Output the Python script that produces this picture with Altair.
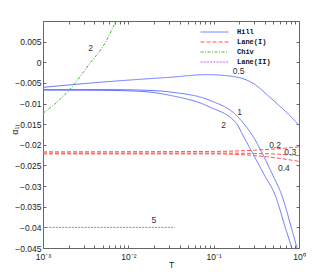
import altair as alt
import pandas as pd

# ---- data ----
# Hill curves (labels 0.5, 1, 2)
H05_T = [0.001, 0.00464, 0.01363, 0.03058, 0.08215, 0.18424, 0.30166, 0.45186, 0.77426, 1.0]
H05_V = [-0.00607, -0.00485, -0.00413, -0.00364, -0.00299, -0.00357, -0.00534, -0.00842, -0.01285, -0.01527]
H1_T = [0.001, 0.00464, 0.01363, 0.03058, 0.08978, 0.18424, 0.28355, 0.49386, 0.62921, 0.81718, 0.94751]
H1_V = [-0.00662, -0.00662, -0.00674, -0.00720, -0.00922, -0.01285, -0.01770, -0.02739, -0.03223, -0.04023, -0.04500]
H2_T = [0.001, 0.00464, 0.01363, 0.03058, 0.08978, 0.18424, 0.22021, 0.39494, 0.52672, 0.69519, 0.82385]
H2_V = [-0.00674, -0.00679, -0.00703, -0.00800, -0.01084, -0.01479, -0.01770, -0.02739, -0.03223, -0.04023, -0.04500]
# Lane(I) curves (labels 0.2, 0.3, 0.4)
L_T = [0.001, 0.1, 0.3, 0.6, 1.0]
L02_V = [-0.0217, -0.0216, -0.0213, -0.0209, -0.0205]
L03_V = [-0.0220, -0.0220, -0.0221, -0.0223, -0.0226]
L04_V = [-0.0222, -0.0222, -0.0226, -0.0233, -0.0240]
# Chiv curve (label 2)
C_T = [0.001, 0.002069, 0.003546, 0.005311, 0.007143]
C_V = [-0.01237, -0.00655, -0.00025, 0.00460, 0.0100]
# Lane(II) curve (label 5)
L2_T = [0.001, 0.035]
L2_V = [-0.0400, -0.0400]

# annotations
LAB_TXT = ["0.5", "1", "2", "2", "5", "0.2", "0.3", "0.4"]
LAB_T = [0.196, 0.201, 0.131, 0.00361, 0.0199, 0.524, 0.789, 0.664]
LAB_V = [-0.00219, -0.01205, -0.01527, 0.00355, -0.0383, -0.01995, -0.02174, -0.02562]

SERIES = ["Hill", "Lane(I)", "Chiv", "Lane(II)"]
COLORS = ["#6674ff", "#ff5555", "#44bb33", "#c060f0"]
DASHES = [[1, 0], [4, 2], [3, 1.5, 1, 1.5], [2, 1.2]]

X_MAJOR = [0.001, 0.01, 0.1, 1.0]
X_MINOR = [k * m for m in (0.001, 0.01, 0.1) for k in range(2, 10)]
Y_TICKS = [-0.045, -0.04, -0.035, -0.03, -0.025, -0.02, -0.015, -0.01, -0.005, 0.0, 0.005]

rows = []
def add(series, curve, ts, vs):
    for t, v in zip(ts, vs):
        rows.append({"series": series, "curve": curve, "T": t, "V": v})

add("Hill", "h05", H05_T, H05_V)
add("Hill", "h1", H1_T, H1_V)
add("Hill", "h2", H2_T, H2_V)
add("Lane(I)", "l02", L_T, L02_V)
add("Lane(I)", "l03", L_T, L03_V)
add("Lane(I)", "l04", L_T, L04_V)
add("Chiv", "c2", C_T, C_V)
add("Lane(II)", "l5", L2_T, L2_V)
df = pd.DataFrame(rows)
lab_df = pd.DataFrame({"txt": LAB_TXT, "T": LAB_T, "V": LAB_V})

xscale = alt.Scale(type="log", domain=[0.001, 1])
yscale = alt.Scale(domain=[-0.045, 0.01])

FONT = "Liberation Sans"
x_ticks = sorted(X_MAJOR + X_MINOR)
x_label_expr = ("datum.value == 0.001 ? '10\u207b\u00b3' : datum.value == 0.01 ? '10\u207b\u00b2' : "
                "datum.value == 0.1 ? '10\u207b\u00b9' : datum.value == 1 ? '10\u2070' : ''")

x_bottom = alt.Axis(orient="bottom", values=x_ticks, labelExpr=x_label_expr, tickSize=3, offset=-3,
                    labelPadding=4, labelFlush=False, labelOverlap=False, title="T", titlePadding=0,
                    titleFontWeight="normal", titleFontSize=8.5, titleFont=FONT, titleColor="#222")
y_left = alt.Axis(orient="left", values=Y_TICKS, format=".3~f", tickSize=3, offset=-3, labelPadding=2,
                  labelOverlap=False, labelFlush=False, title="\u03b1\u2081", titleFontWeight="normal",
                  titleFontSize=9, titleFont=FONT, titleColor="#222", titleX=-32, titleY=109,
                  titleBaseline="middle", titleAngle=270)
x_top = alt.Axis(orient="top", values=x_ticks, labels=False, tickSize=3, offset=-3, title=None)
y_right = alt.Axis(orient="right", values=Y_TICKS, labels=False, tickSize=3, offset=-3, title=None)

leg = alt.Legend(orient="none", legendX=167, legendY=6.5, title=None, symbolType="M-3.5,0H3.5",
                 symbolSize=64, labelOffset=18, labelFont="Liberation Mono", labelFontWeight="bold",
                 labelFontSize=7, labelColor="#111", rowPadding=2, padding=0, symbolStrokeWidth=1,
                 symbolFillColor="transparent")

lines = alt.Chart(df).mark_line(strokeWidth=1, interpolate="monotone", clip=True).encode(
    x=alt.X("T:Q", scale=xscale, axis=x_bottom),
    y=alt.Y("V:Q", scale=yscale, axis=y_left),
    color=alt.Color("series:N", scale=alt.Scale(domain=SERIES, range=COLORS), legend=leg),
    strokeDash=alt.StrokeDash("series:N", scale=alt.Scale(domain=SERIES, range=DASHES), legend=leg),
    detail="curve:N",
)

frame = alt.Chart(lab_df).mark_point(opacity=0).encode(
    x=alt.X("T:Q", scale=xscale, axis=x_top),
    y=alt.Y("V:Q", scale=yscale, axis=y_right),
)

texts = alt.Chart(lab_df).mark_text(font=FONT, fontSize=8.5, color="#333", align="center",
                                    baseline="middle").encode(
    x=alt.X("T:Q", scale=xscale, axis=None),
    y=alt.Y("V:Q", scale=yscale, axis=None),
    text="txt:N",
)

chart = alt.layer(lines, frame, texts).resolve_axis(x="independent", y="independent").properties(
    width=256, height=227,
    autosize=alt.AutoSizeParams(type="none"),
    padding={"left": 35, "top": 13, "right": 16, "bottom": 22},
).configure_view(stroke="#666", strokeWidth=1).configure_axis(
    domain=False, grid=False, labelFont=FONT, labelFontSize=8.5, labelColor="#222", tickColor="#666",
    tickWidth=1,
)

chart.save("out.html", embed_options={"renderer": "svg", "actions": False})
